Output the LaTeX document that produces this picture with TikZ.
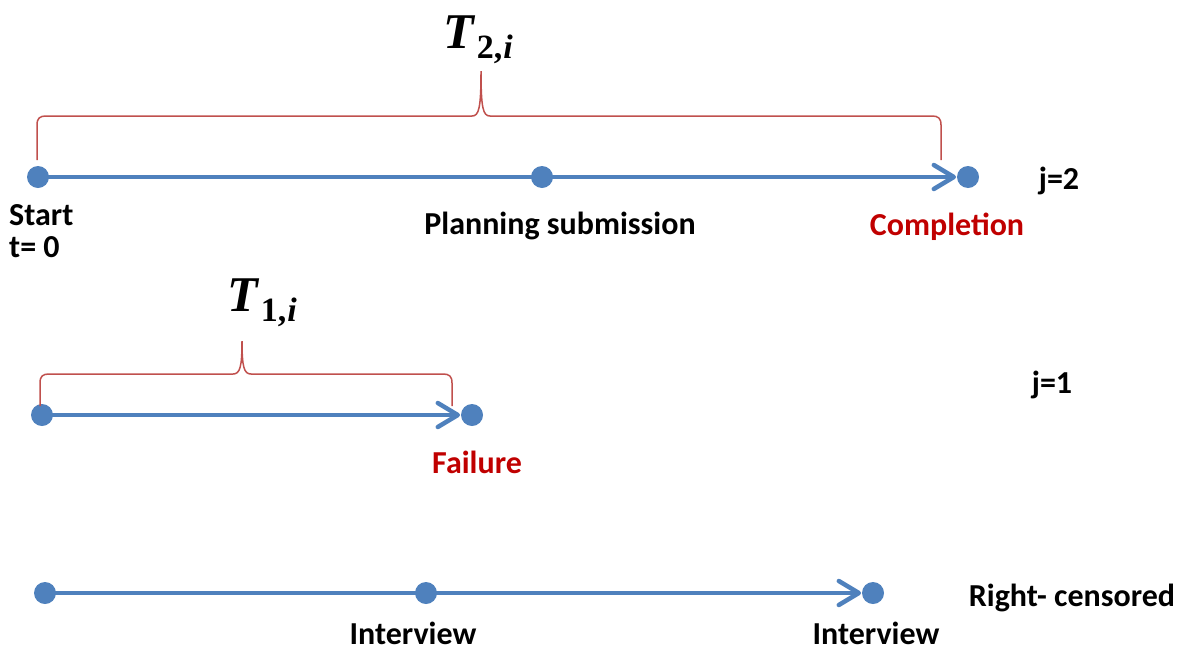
\documentclass[tikz,border=0pt]{standalone}
\usepackage{fontspec}
\setmainfont{Carlito}
\newfontfamily\tserif{Liberation Serif}
\usetikzlibrary{backgrounds}
\definecolor{lineblue}{HTML}{4F81BD}
\definecolor{bracered}{HTML}{C0504D}
\definecolor{labelred}{HTML}{C00000}
\newcommand{\Tlab}[1]{{\fontsize{50}{54}\selectfont\tserif\bfseries\itshape T}\kern3pt\raisebox{-10pt}{\fontsize{34}{38}\selectfont\tserif\bfseries #1,\kern1pt\itshape i}}
\tikzset{
  dot/.style={circle,fill=lineblue,inner sep=0pt,minimum size=22pt},
  tl/.style={line width=4pt,lineblue},
  chev/.style={line width=4.5pt,lineblue,line cap=round,line join=round},
  lbl/.style={font=\fontsize{32}{36}\selectfont\bfseries,inner sep=0pt},
  brace/.style={bracered,line width=1.5pt},
  mlbl/.style={inner sep=0pt}
}
\begin{document}
\begin{tikzpicture}[x=1pt,y=-1pt]
\useasboundingbox (0,0) rectangle (1185,651);
% row j=2
\node[dot] (s2) at (38,177) {};
\node[dot] (p2) at (542,177) {};
\node[dot] (e2) at (968,177) {};
\begin{scope}[on background layer]
\draw[tl] (s2.center) -- ([xshift=-3pt]e2.west);
\draw[chev] ([xshift=-3pt]e2.west) ++(-20,-12) -- ([xshift=-3pt]e2.west) -- ++(-20,12);
\end{scope}
\draw[brace] (37,160) -- (37,125) .. controls (37,118) and (40,116) .. (46,116) -- (472,116) .. controls (479,116) and (481,108) .. (481,71) .. controls (481,108) and (483,116) .. (490,116) -- (932,116) .. controls (938,116) and (941,118) .. (941,125) -- (941,160);
\node[mlbl] (T2) at (478,40) {\Tlab{2}};
\node[lbl,anchor=west] (start) at (9,215) {Start};
\node[lbl,anchor=west] (t0) at (9,247) {t= 0};
\node[lbl] (plan) at (560,226) {Planning submission};
\node[lbl,text=labelred] (comp) at (947,227) {Completion};
\node[lbl] (j2) at (1059,181) {j=2};
% row j=1
\node[dot] (s1) at (42,415) {};
\node[dot] (e1) at (472,415) {};
\begin{scope}[on background layer]
\draw[tl] (s1.center) -- ([xshift=-3pt]e1.west);
\draw[chev] ([xshift=-3pt]e1.west) ++(-20,-12) -- ([xshift=-3pt]e1.west) -- ++(-20,12);
\end{scope}
\draw[brace] (40,406) -- (40,383) .. controls (40,376) and (43,374) .. (49,374) -- (233,374) .. controls (240,374) and (242,367) .. (242,341) .. controls (242,367) and (244,374) .. (251,374) -- (443,374) .. controls (449,374) and (452,376) .. (452,383) -- (452,406);
\node[mlbl] (T1) at (262,303) {\Tlab{1}};
\node[lbl,text=labelred] (fail) at (477,462) {Failure};
\node[lbl] (j1) at (1052,385) {j=1};
% censored row
\node[dot] (s3) at (45,593) {};
\node[dot] (p3) at (426,593) {};
\node[dot] (e3) at (873,593) {};
\begin{scope}[on background layer]
\draw[tl] (s3.center) -- ([xshift=-3pt]e3.west);
\draw[chev] ([xshift=-3pt]e3.west) ++(-20,-12) -- ([xshift=-3pt]e3.west) -- ++(-20,12);
\end{scope}
\node[lbl] (int1) at (413,633) {Interview};
\node[lbl] (int2) at (876,633) {Interview};
\node[lbl] (rc) at (1072,598) {Right- censored};
\end{tikzpicture}
\end{document}
